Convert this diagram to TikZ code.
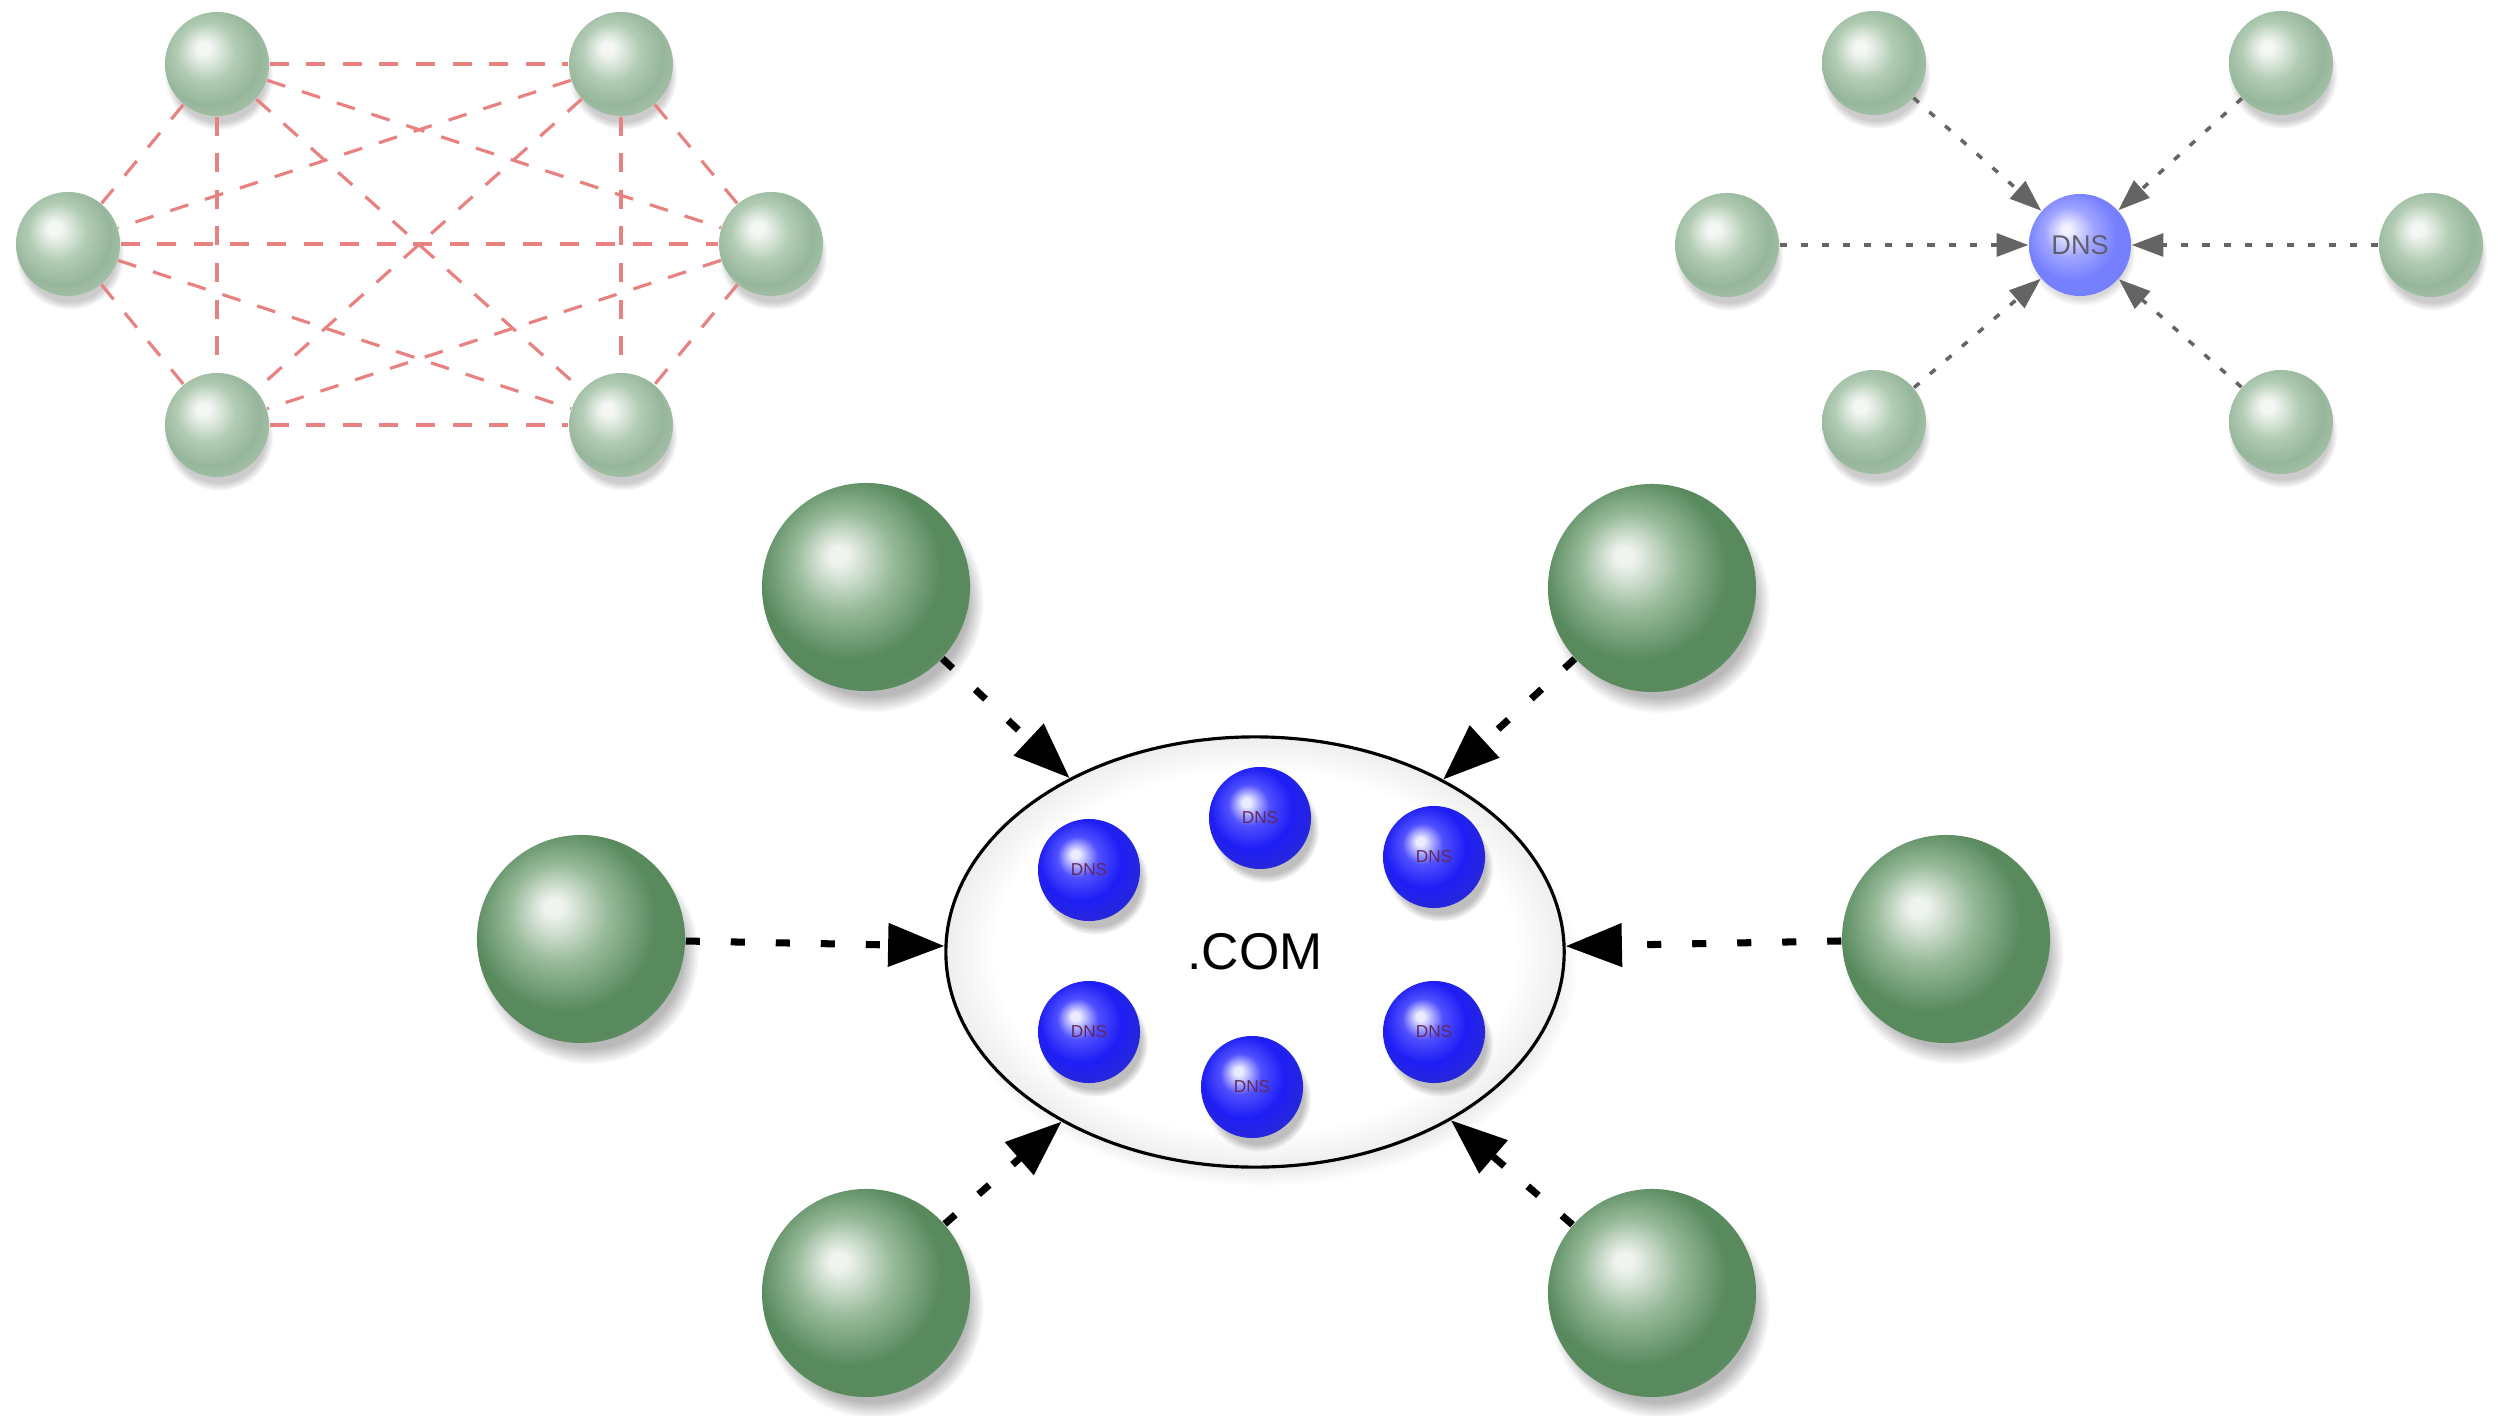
\documentclass[tikz,border=0pt]{standalone}
\usepackage{fontspec}
\setmainfont{Liberation Sans}
\usetikzlibrary{arrows.meta}
\usetikzlibrary{shapes.geometric}
\usetikzlibrary{shadows}
\usetikzlibrary{fadings}
\definecolor{palehi}{RGB}{244,247,244}
\definecolor{palemid}{RGB}{178,204,180}
\definecolor{paleedge}{RGB}{150,182,155}
\definecolor{palerim}{RGB}{170,196,172}
\definecolor{greenhi}{RGB}{240,244,240}
\definecolor{greenmid}{RGB}{150,185,152}
\definecolor{greenmain}{RGB}{88,138,94}
\definecolor{greenrim}{RGB}{130,160,132}
\definecolor{bluehi}{RGB}{236,236,255}
\definecolor{bluemid}{RGB}{80,80,255}
\definecolor{bluemain}{RGB}{30,30,245}
\definecolor{bluerim}{RGB}{40,40,215}
\definecolor{skyhi}{RGB}{242,242,255}
\definecolor{skymid}{RGB}{160,165,255}
\definecolor{skymain}{RGB}{118,128,255}
\definecolor{meshred}{RGB}{232,130,128}
\definecolor{querygray}{RGB}{100,100,100}
\definecolor{dnsgray}{RGB}{95,95,110}
\definecolor{dnstext}{RGB}{100,40,90}
\definecolor{comrim}{RGB}{238,238,238}
\pgfdeclareradialshading{paleball}{\pgfpoint{-7bp}{8bp}}{color(0bp)=(palehi); color(3bp)=(palehi); color(14bp)=(palemid); color(24bp)=(paleedge); color(32bp)=(palerim); color(50bp)=(palerim)}
\pgfdeclareradialshading{greenball}{\pgfpoint{-7bp}{8bp}}{color(0bp)=(greenhi); color(2bp)=(greenhi); color(12bp)=(greenmid); color(22bp)=(greenmain); color(28bp)=(greenmain); color(36bp)=(greenrim); color(50bp)=(greenrim)}
\pgfdeclareradialshading{blueball}{\pgfpoint{-7bp}{8bp}}{color(0bp)=(bluehi); color(2bp)=(bluehi); color(10bp)=(bluemid); color(20bp)=(bluemain); color(30bp)=(bluerim); color(50bp)=(bluerim)}
\pgfdeclareradialshading{skyball}{\pgfpoint{-7bp}{8bp}}{color(0bp)=(skyhi); color(2bp)=(skyhi); color(12bp)=(skymid); color(22bp)=(skymain); color(50bp)=(skymain)}
\pgfdeclareradialshading{comfill}{\pgfpoint{0bp}{0bp}}{color(0bp)=(white); color(21bp)=(white); color(25bp)=(comrim); color(50bp)=(comrim)}

\begin{document}
\begin{tikzpicture}[x=0.01cm, y=-0.01cm,
    host/.style={circle, inner sep=0pt, minimum size=1.04cm, shading=paleball,
      circular drop shadow={shadow xshift=.5pt, shadow yshift=-3pt, shadow scale=1.05, opacity=.4}},
    bighost/.style={circle, inner sep=0pt, minimum size=2.08cm, shading=greenball,
      circular drop shadow={shadow xshift=2pt, shadow yshift=-4pt, shadow scale=1.06, opacity=.55}},
    dnsball/.style={circle, inner sep=0pt, minimum size=1.02cm, shading=blueball, text=dnstext,
      font=\fontsize{4.9}{5}\selectfont,
      circular drop shadow={shadow xshift=1.5pt, shadow yshift=-3pt, shadow scale=1.05, opacity=.5}},
    rootdns/.style={circle, inner sep=0pt, minimum size=1.02cm, shading=skyball, text=dnsgray,
      font=\fontsize{7.7}{8}\selectfont,
      circular drop shadow={shadow xshift=.5pt, shadow yshift=-2pt, shadow scale=1.05, opacity=.3}},
    meshline/.style={draw=meshred, line width=.9pt, dash pattern=on 5.4pt off 5pt},
    query/.style={draw=querygray, line width=1pt, dash pattern=on 2pt off 4pt,
      -{Triangle[length=9pt,width=6.5pt]}},
    bigquery/.style={draw=black, line width=2pt, dash pattern=on 4pt off 8.8pt,
      -{Triangle[length=16pt,width=12pt]}}
  ]
  \useasboundingbox (0,0) rectangle (2498,1416);

  %every host talks to every host
  \node[host] (m1) at (217,64) {};
  \node[host] (m2) at (621,64) {};
  \node[host] (m3) at (68,244) {};
  \node[host] (m4) at (771,244) {};
  \node[host] (m5) at (217,425) {};
  \node[host] (m6) at (621,425) {};
  \foreach \a/\b in {m1/m2,m1/m3,m1/m4,m1/m5,m1/m6,m2/m3,m2/m4,m2/m5,m2/m6,m3/m4,m3/m5,m3/m6,m4/m5,m4/m6,m5/m6}
    \draw[meshline] (\a) -- (\b);

  %one DNS server
  \node[rootdns] (dns) at (2080,245) {DNS};
  \node[host] (s1) at (1874,63) {};
  \node[host] (s2) at (2281,63) {};
  \node[host] (s3) at (1727,245) {};
  \node[host] (s4) at (2431,245) {};
  \node[host] (s5) at (1874,422) {};
  \node[host] (s6) at (2281,422) {};
  \foreach \s in {s1,s2,s3,s4,s5,s6}
    \draw[query] (\s) -- (dns);

  %the .COM cluster
  \node[ellipse, draw=black, line width=.9pt, inner sep=0pt, minimum width=6.18cm, minimum height=4.30cm,
    shading=comfill, font=\fontsize{14.7}{17}\selectfont,
    circular drop shadow={shadow xshift=2pt, shadow yshift=-4pt, shadow scale=1.02, opacity=.3}]
    (com) at (1255,952) {.COM};
  \node[dnsball] (d1) at (1089,870) {DNS};
  \node[dnsball] (d2) at (1260,818) {DNS};
  \node[dnsball] (d3) at (1434,857) {DNS};
  \node[dnsball] (d4) at (1089,1032) {DNS};
  \node[dnsball] (d5) at (1252,1087) {DNS};
  \node[dnsball] (d6) at (1434,1032) {DNS};

  \node[bighost] (b1) at (866,587) {};
  \node[bighost] (b2) at (1652,588) {};
  \node[bighost] (b3) at (581,939) {};
  \node[bighost] (b4) at (1946,939) {};
  \node[bighost] (b5) at (866,1293) {};
  \node[bighost] (b6) at (1652,1293) {};
  \foreach \b in {b1,b2,b3,b4,b5,b6}
    \draw[bigquery] (\b) -- (com);
\end{tikzpicture}
\end{document}
